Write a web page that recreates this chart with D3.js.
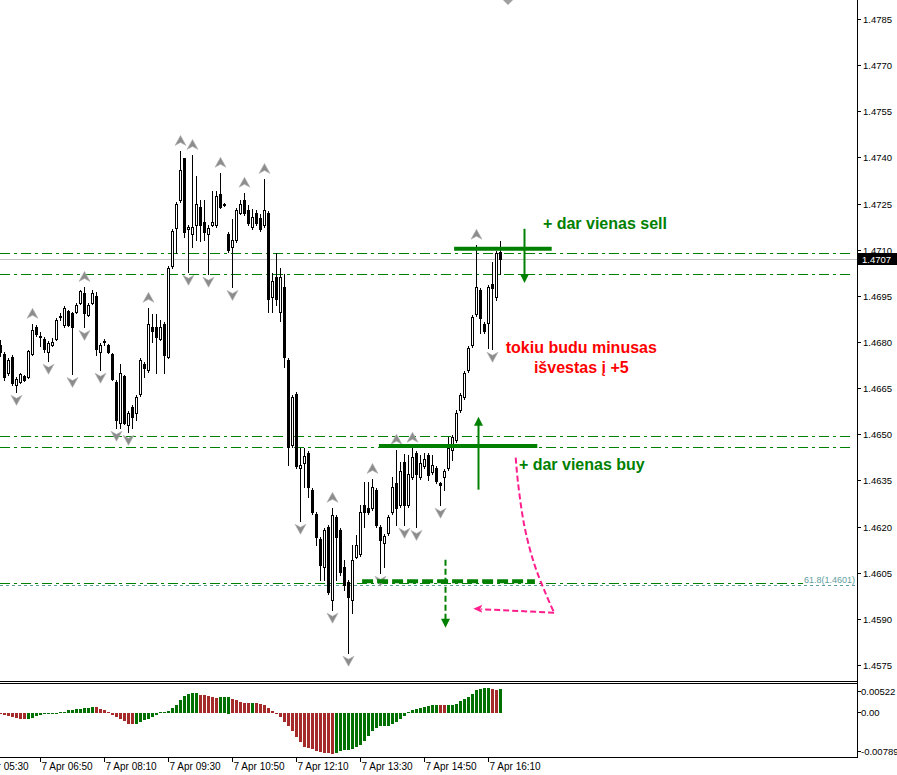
<!DOCTYPE html>
<html><head><meta charset="utf-8">
<script src="https://cdn.jsdelivr.net/npm/d3@7"></script>
<style>body{margin:0;background:#fff}svg{display:block}</style>
</head><body>
<svg id="c" width="897" height="775"></svg>
<script>
// ---------- DATA ----------
const chartDay = "2011-04-07";
const firstBarTime = "06:00";
const barMinutes = 5;
const open  = [1.46791,1.46761,1.46700,1.46752,1.46661,1.46670,1.46690,1.46687,1.46761,1.46849,1.46820,1.46810,1.46768,1.46791,1.46810,1.46882,1.46856,1.46901,1.46895,1.46898,1.46927,1.46960,1.46888,1.46927,1.46950,1.46768,1.46800,1.46791,1.46761,1.46670,1.46537,1.46690,1.46531,1.46589,1.46570,1.46631,1.46729,1.46710,1.46849,1.46849,1.46810,1.46859,1.46752,1.47047,1.47171,1.47262,1.47399,1.47168,1.47152,1.47181,1.47239,1.47190,1.47152,1.47181,1.47181,1.47281,1.47249,1.47152,1.47109,1.47132,1.47220,1.47262,1.47230,1.47174,1.47220,1.47204,1.47181,1.47220,1.46947,1.47012,1.46898,1.46979,1.46742,1.46466,1.46631,1.46391,1.46407,1.46440,1.46320,1.46241,1.46160,1.46069,1.46199,1.45962,1.46232,1.46190,1.46069,1.46020,1.45962,1.46102,1.46111,1.46271,1.46261,1.46261,1.46320,1.46199,1.46147,1.46180,1.46248,1.46342,1.46271,1.46411,1.46271,1.46362,1.46440,1.46362,1.46397,1.46433,1.46378,1.46391,1.46342,1.46362,1.46391,1.46450,1.46482,1.46580,1.46622,1.46710,1.46791,1.46891,1.46970,1.46859,1.46862,1.46989,1.46947,1.47093];
const high  = [1.46807,1.46768,1.46748,1.46758,1.46687,1.46700,1.46693,1.46775,1.46859,1.46856,1.46833,1.46817,1.46804,1.46814,1.46878,1.46895,1.46917,1.46905,1.46898,1.46927,1.46970,1.46979,1.46927,1.46970,1.46963,1.46797,1.46810,1.46794,1.46765,1.46677,1.46729,1.46693,1.46576,1.46596,1.46628,1.46748,1.46735,1.46911,1.46891,1.46891,1.46872,1.46865,1.47047,1.47168,1.47256,1.47421,1.47399,1.47181,1.47408,1.47340,1.47262,1.47262,1.47181,1.47291,1.47291,1.47350,1.47252,1.47158,1.47200,1.47236,1.47262,1.47285,1.47246,1.47233,1.47230,1.47216,1.47330,1.47226,1.47025,1.47090,1.47041,1.47022,1.46748,1.46628,1.46638,1.46456,1.46456,1.46446,1.46326,1.46248,1.46167,1.46196,1.46206,1.46261,1.46238,1.46196,1.46092,1.46027,1.46141,1.46173,1.46271,1.46346,1.46346,1.46355,1.46326,1.46206,1.46176,1.46238,1.46362,1.46450,1.46411,1.46437,1.46433,1.46456,1.46446,1.46433,1.46440,1.46440,1.46433,1.46397,1.46345,1.46388,1.46492,1.46498,1.46580,1.46635,1.46706,1.46787,1.46888,1.47116,1.46976,1.46865,1.46986,1.47060,1.47096,1.47129];
const low   = [1.46755,1.46677,1.46693,1.46661,1.46638,1.46667,1.46674,1.46683,1.46758,1.46820,1.46787,1.46768,1.46739,1.46787,1.46807,1.46872,1.46849,1.46852,1.46696,1.46895,1.46924,1.46849,1.46885,1.46924,1.46758,1.46710,1.46791,1.46765,1.46677,1.46521,1.46521,1.46534,1.46508,1.46521,1.46547,1.46625,1.46687,1.46703,1.46800,1.46700,1.46807,1.46700,1.46748,1.47041,1.47090,1.47256,1.47142,1.47028,1.47109,1.47132,1.47129,1.47132,1.47022,1.47177,1.47174,1.47236,1.47242,1.47093,1.46979,1.47125,1.47216,1.47213,1.47181,1.47168,1.47181,1.47161,1.47174,1.46898,1.46898,1.46921,1.46869,1.46719,1.46401,1.46459,1.46391,1.46219,1.46329,1.46297,1.46241,1.46141,1.46027,1.46027,1.45982,1.45930,1.46027,1.46043,1.45995,1.45790,1.45920,1.46098,1.46105,1.46199,1.46241,1.46254,1.46199,1.46050,1.46069,1.46173,1.46241,1.46206,1.46264,1.46206,1.46264,1.46355,1.46199,1.46355,1.46391,1.46352,1.46372,1.46342,1.46271,1.46320,1.46384,1.46417,1.46476,1.46573,1.46615,1.46703,1.46784,1.46885,1.46830,1.46830,1.46781,1.46778,1.46937,1.47022];
const close = [1.46768,1.46687,1.46742,1.46667,1.46680,1.46696,1.46677,1.46771,1.46840,1.46827,1.46817,1.46778,1.46797,1.46800,1.46872,1.46885,1.46911,1.46856,1.46849,1.46921,1.46966,1.46895,1.46921,1.46960,1.46778,1.46791,1.46804,1.46768,1.46680,1.46547,1.46700,1.46537,1.46570,1.46557,1.46622,1.46742,1.46716,1.46859,1.46836,1.46817,1.46849,1.46758,1.47041,1.47161,1.47249,1.47360,1.47158,1.47174,1.47174,1.47249,1.47181,1.47158,1.47171,1.47190,1.47275,1.47239,1.47246,1.47100,1.47132,1.47230,1.47249,1.47220,1.47187,1.47207,1.47187,1.47168,1.47230,1.46940,1.46999,1.46940,1.47012,1.46752,1.46459,1.46622,1.46397,1.46401,1.46430,1.46329,1.46248,1.46167,1.46076,1.46190,1.45988,1.46238,1.46167,1.46053,1.46011,1.45972,1.46092,1.46141,1.46248,1.46248,1.46248,1.46329,1.46206,1.46157,1.46170,1.46232,1.46329,1.46261,1.46381,1.46271,1.46372,1.46427,1.46372,1.46407,1.46420,1.46368,1.46401,1.46349,1.46336,1.46381,1.46456,1.46492,1.46570,1.46628,1.46700,1.46781,1.46882,1.46979,1.46878,1.46836,1.46979,1.46976,1.47090,1.47070];
const fractalUp   = [8,21,37,45,48,55,61,66,83,93,99,103,119];
const fractalDown = [4,12,18,21,25,29,32,47,52,58,75,83,87,95,101,104,110,123];
// oscillator (sub window) values per bar
const oscValues = [-0.00019,-0.00039,-0.00058,-0.00077,-0.00097,-0.00110,-0.00113,-0.00110,-0.00090,-0.00065,-0.00039,-0.00019,-0.00013,-0.00010,-0.00006,0.00013,0.00019,0.00052,0.00058,0.00071,0.00077,0.00097,0.00100,0.00123,0.00110,0.00071,0.00052,0.00013,-0.00032,-0.00077,-0.00110,-0.00155,-0.00206,-0.00213,-0.00206,-0.00181,-0.00142,-0.00110,-0.00071,-0.00032,0.00013,0.00019,0.00045,0.00090,0.00161,0.00252,0.00329,0.00368,0.00381,0.00387,0.00348,0.00342,0.00329,0.00310,0.00297,0.00303,0.00316,0.00319,0.00271,0.00245,0.00213,0.00194,0.00187,0.00194,0.00190,0.00174,0.00161,0.00097,0.00039,-0.00026,-0.00071,-0.00168,-0.00258,-0.00348,-0.00458,-0.00561,-0.00651,-0.00684,-0.00703,-0.00729,-0.00748,-0.00774,-0.00780,-0.00789,-0.00768,-0.00742,-0.00722,-0.00716,-0.00697,-0.00664,-0.00626,-0.00542,-0.00439,-0.00342,-0.00284,-0.00255,-0.00252,-0.00245,-0.00219,-0.00174,-0.00116,-0.00052,0.00019,0.00052,0.00071,0.00097,0.00116,0.00135,0.00155,0.00161,0.00155,0.00148,0.00152,0.00161,0.00174,0.00226,0.00264,0.00316,0.00368,0.00445,0.00464,0.00484,0.00487,0.00471,0.00445,0.00458];
const priceTicks = ["1.4575","1.4590","1.4605","1.4620","1.4635","1.4650","1.4665","1.4680","1.4695","1.4710","1.4725","1.4740","1.4755","1.4770","1.4785"];
const timeTickTimes  = ["05:30","06:50","08:10","09:30","10:50","12:10","13:30","14:50","16:10"];
const timeTickLabels = ["7 Apr 05:30","7 Apr 06:50","7 Apr 08:10","7 Apr 09:30","7 Apr 10:50","7 Apr 12:10","7 Apr 13:30","7 Apr 14:50","7 Apr 16:10"];
const oscTickValues = [0.00522, 0, -0.00789];
const oscTickLabels = ["0.00522","0.00","-0.00789"];
const bidPrice = 1.4707;
const levelPrices = [1.47089, 1.47022, 1.46493, 1.46460];
const lowLevelPrice = 1.46015;
const fibPrice = 1.4601;
const fibLabel = "61.8(1.4601)";
// hand-drawn objects (time, price)
const sellLine  = {t1:"15:27", t2:"17:29", p:1.47103};
const sellArrow = {t:"16:54", from:1.47168, tip:1.46992};
const buyLine   = {t1:"13:53", t2:"17:11", p:1.46462};
const buyArrow  = {t:"15:57", from:1.46320, tip:1.46557};
const dashLine  = {t1:"13:32", t2:"17:08", p:1.46022};
const dashArrow = {t:"15:16", from:1.46092, tip:1.45871};
const pinkCurve = [["16:44",1.46424],["16:47",1.46340],["16:55",1.46200],["17:07",1.46080],["17:21",1.45985],["17:32",1.45920]];
const pinkTip   = ["15:51",1.45933];
const notes = [
  {text:"+ dar vienas sell", t:"17:18", p:1.47168, color:"#008000", anchor:"start"},
  {text:"tokiu budu minusas", t:"18:06", p:1.46765, color:"#ff0000", anchor:"middle"},
  {text:"išvestas į +5", t:"18:06", p:1.46700, color:"#ff0000", anchor:"middle"},
  {text:"+ dar vienas buy", t:"16:48", p:1.46385, color:"#008000", anchor:"start"}
];

// ---------- LAYOUT ----------
const axisX = 857, mainBottom = 681, subTop = 683, subBottom = 757;
const svg = d3.select("#c");
const parse = d3.timeParse("%Y-%m-%d %H:%M");
const T = s => parse(chartDay + " " + s);
const t0 = T(firstBarTime);
const dates = open.map((_, i) => d3.timeMinute.offset(t0, i * barMinutes));
const x = d3.scaleTime().domain([dates[0], dates[dates.length - 1]]).range([0.5, 4 * (dates.length - 1) + 0.5]);
const y = d3.scaleLinear().domain([+priceTicks[0], +priceTicks[priceTicks.length - 1]]).range([665, 19]);
const ys = d3.scaleLinear().domain([oscTickValues[2], oscTickValues[0]]).range([754, 686]);
const font = "'Liberation Sans', Arial, sans-serif";

svg.append("rect").attr("width", 897).attr("height", 775).attr("fill", "#fff");
const defs = svg.append("defs");
defs.append("clipPath").attr("id", "mainClip").append("rect").attr("x", 0).attr("y", 0).attr("width", axisX).attr("height", mainBottom);
defs.append("clipPath").attr("id", "subClip").append("rect").attr("x", 0).attr("y", subTop).attr("width", axisX).attr("height", subBottom - subTop);

const main = svg.append("g").attr("clip-path", "url(#mainClip)");

// fib line (teal dashed)
main.append("line").attr("x1", 0).attr("x2", axisX).attr("y1", Math.round(y(fibPrice)) + 0.5).attr("y2", Math.round(y(fibPrice)) + 0.5)
  .attr("stroke", "#5f9ea0").attr("stroke-dasharray", "3,3");

// bid line
main.append("line").attr("x1", 0).attr("x2", axisX).attr("y1", Math.round(y(bidPrice)) + 0.5).attr("y2", Math.round(y(bidPrice)) + 0.5)
  .attr("stroke", "#c0c0c0");

// green dash-dot levels
main.selectAll(".lvl").data(levelPrices).join("line")
  .attr("x1", 0).attr("x2", 852)
  .attr("y1", d => Math.round(y(d)) + 0.5).attr("y2", d => Math.round(y(d)) + 0.5)
  .attr("stroke", "#008000").attr("stroke-dasharray", "10,4,3,4");
main.append("line").attr("x1", 0).attr("x2", 803)
  .attr("y1", Math.round(y(lowLevelPrice)) + 0.5).attr("y2", Math.round(y(lowLevelPrice)) + 0.5)
  .attr("stroke", "#008000").attr("stroke-dasharray", "10,4,3,4");

// candles
const cg = main.append("g");
dates.forEach((d, i) => {
  const px = Math.floor(x(d));
  const yh = Math.round(y(high[i])), yl = Math.round(y(low[i]));
  const yo = Math.round(y(open[i])), yc = Math.round(y(close[i]));
  cg.append("line").attr("x1", px + 0.5).attr("x2", px + 0.5).attr("y1", yh).attr("y2", yl + 1).attr("stroke", "#000");
  const top = Math.min(yo, yc), bot = Math.max(yo, yc);
  if (bot - top < 1) {
    cg.append("rect").attr("x", px - 1).attr("y", top).attr("width", 3).attr("height", 1).attr("fill", "#000");
  } else if (close[i] > open[i]) {
    cg.append("rect").attr("x", px - 0.5).attr("y", top + 0.5).attr("width", 2).attr("height", bot - top)
      .attr("fill", "#fff").attr("stroke", "#000");
  } else {
    cg.append("rect").attr("x", px - 1).attr("y", top).attr("width", 3).attr("height", bot - top + 1).attr("fill", "#000");
  }
});

// fractal arrows
const upPath = "M0,-5.5L5.5,4.5L0,1.5L-5.5,4.5Z";
const dnPath = "M0,5.5L5.5,-4.5L0,-1.5L-5.5,-4.5Z";
main.selectAll(".fu").data(fractalUp).join("path")
  .attr("d", upPath).attr("fill", "#8c8c8c").attr("stroke", "#b4b4b4").attr("stroke-width", 0.6)
  .attr("transform", i => `translate(${Math.floor(x(dates[i])) + 0.5},${y(high[i]) - 10})`);
main.selectAll(".fd").data(fractalDown).join("path")
  .attr("d", dnPath).attr("fill", "#8c8c8c").attr("stroke", "#b4b4b4").attr("stroke-width", 0.6)
  .attr("transform", i => `translate(${Math.floor(x(dates[i])) + 0.5},${y(low[i]) + 8})`);

// hand drawn objects
const green = "#008000";
function hline(o, w, dash) {
  main.append("line").attr("x1", x(T(o.t1))).attr("x2", x(T(o.t2))).attr("y1", y(o.p)).attr("y2", y(o.p))
    .attr("stroke", green).attr("stroke-width", w).attr("stroke-dasharray", dash || null);
}
function varrow(o, w, dash) {
  const xx = Math.round(x(T(o.t))) + 0.5, y1 = y(o.from), yt = y(o.tip);
  const dir = yt > y1 ? 1 : -1;
  main.append("line").attr("x1", xx).attr("x2", xx).attr("y1", y1).attr("y2", yt - dir * 6)
    .attr("stroke", green).attr("stroke-width", w).attr("stroke-dasharray", dash || null);
  main.append("path").attr("d", `M${xx},${yt}L${xx - 4.5},${yt - dir * 9}L${xx + 4.5},${yt - dir * 9}Z`).attr("fill", green);
}
hline(sellLine, 4);
varrow(sellArrow, 2);
hline(buyLine, 4);
varrow(buyArrow, 2);
hline(dashLine, 4, "11,4");
varrow(dashArrow, 2, "6,3");

// pink curve
const pink = "#ff1e8c";
const pts = pinkCurve.map(p => [x(T(p[0])), y(p[1])]);
main.append("path").attr("d", d3.line().curve(d3.curveCatmullRom)(pts)).attr("fill", "none")
  .attr("stroke", pink).attr("stroke-width", 2).attr("stroke-dasharray", "6,3");
const tip = [x(T(pinkTip[0])), y(pinkTip[1])];
const last = pts[pts.length - 1];
main.append("path").attr("d", d3.line()([last, [tip[0] + 8, tip[1] + 0.5]])).attr("fill", "none")
  .attr("stroke", pink).attr("stroke-width", 2).attr("stroke-dasharray", "6,3");
main.append("path").attr("d", `M${tip[0]},${tip[1]}L${tip[0] + 9},${tip[1] - 4}L${tip[0] + 7},${tip[1]}L${tip[0] + 9},${tip[1] + 4}Z`).attr("fill", pink);

// notes
main.selectAll(".note").data(notes).join("text")
  .attr("x", d => x(T(d.t))).attr("y", d => y(d.p))
  .attr("text-anchor", d => d.anchor).attr("fill", d => d.color)
  .attr("font-family", font).attr("font-weight", "bold").attr("font-size", 16)
  .text(d => d.text);

// fib label
svg.append("text").attr("x", 855).attr("y", y(fibPrice) - 2).attr("text-anchor", "end")
  .attr("fill", "#5f9ea0").attr("font-family", font).attr("font-size", 9).text(fibLabel);

// chart shift marker
svg.append("path").attr("d", "M503,0L513,0L508,5Z").attr("fill", "#a0a0a0");

// ---------- SUB WINDOW ----------
const sub = svg.append("g").attr("clip-path", "url(#subClip)");
sub.selectAll("rect").data(oscValues).join("rect")
  .attr("x", (v, i) => Math.floor(x(dates[i])) - 1).attr("width", 3)
  .attr("y", v => Math.round(Math.min(ys(v), ys(0))))
  .attr("height", v => Math.max(1, Math.round(Math.abs(ys(v) - ys(0)))))
  .attr("fill", (v, i) => (i > 0 && v >= oscValues[i - 1]) ? "#007000" : "#a52a2a");

// ---------- FRAMES & AXES ----------
svg.append("line").attr("x1", 0).attr("x2", axisX).attr("y1", mainBottom + 0.5).attr("y2", mainBottom + 0.5).attr("stroke", "#000");
svg.append("line").attr("x1", 0).attr("x2", axisX).attr("y1", subTop + 0.5).attr("y2", subTop + 0.5).attr("stroke", "#000");
svg.append("line").attr("x1", 0).attr("x2", axisX).attr("y1", subBottom + 0.5).attr("y2", subBottom + 0.5).attr("stroke", "#000");
svg.append("line").attr("x1", axisX + 0.5).attr("x2", axisX + 0.5).attr("y1", 0).attr("y2", subBottom + 1).attr("stroke", "#000");

// price axis
const pa = svg.append("g");
priceTicks.forEach(t => {
  const yy = Math.round(y(+t)) + 0.5;
  pa.append("line").attr("x1", axisX).attr("x2", axisX + 4).attr("y1", yy).attr("y2", yy).attr("stroke", "#000");
  pa.append("text").attr("x", axisX + 6).attr("y", yy + 3.5).attr("font-family", font).attr("font-size", 9.5).attr("fill", "#000").text(t);
});
// bid label
const by = Math.round(y(bidPrice));
svg.append("rect").attr("x", axisX + 1).attr("y", by - 6).attr("width", 39).attr("height", 12).attr("fill", "#000");
svg.append("text").attr("x", axisX + 5).attr("y", by + 4).attr("font-family", font).attr("font-size", 9.5).attr("fill", "#fff").text(bidPrice.toFixed(4));

// osc axis
oscTickValues.forEach((v, i) => {
  const off = i === 0 ? 5 : (i === 2 ? -3 : -1);
  const yy = Math.round(ys(v) + off) + 0.5;
  svg.append("line").attr("x1", axisX).attr("x2", axisX + 4).attr("y1", yy).attr("y2", yy).attr("stroke", "#000");
  svg.append("text").attr("x", axisX + 4).attr("y", yy + 3.5).attr("font-family", font).attr("font-size", 9.5).attr("fill", "#000").text(oscTickLabels[i]);
});

// time axis
timeTickTimes.forEach((t, i) => {
  const xx = Math.floor(x(T(t))) + 0.5;
  svg.append("line").attr("x1", xx).attr("x2", xx).attr("y1", subBottom).attr("y2", subBottom + 5).attr("stroke", "#000");
  svg.append("text").attr("x", xx + 1).attr("y", 770).attr("font-family", font).attr("font-size", 10).attr("fill", "#000").text(timeTickLabels[i]);
});
</script>
</body></html>
